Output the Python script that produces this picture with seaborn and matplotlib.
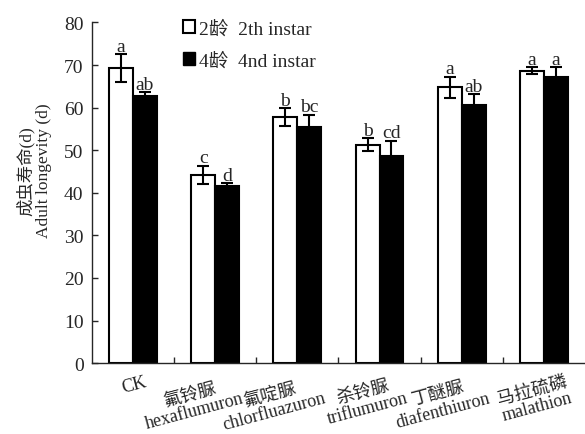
import pandas as pd
import numpy as np
import matplotlib
matplotlib.use("Agg")
import matplotlib.pyplot as plt
import matplotlib.transforms as mtransforms
from matplotlib.patches import Patch
import seaborn as sns

# data
categories = ["CK", "氟铃脲\nhexaflumuron", "氟啶脲\nchlorfluazuron",
              "杀铃脲\ntriflumuron", "丁醚脲\ndiafenthiuron", "马拉硫磷\nmalathion"]
instar2 = [69.3, 44.2, 57.8, 51.3, 64.8, 68.7]
instar2_err = [3.2, 2.2, 2.0, 1.5, 2.5, 0.8]
instar4 = [62.8, 41.5, 55.4, 48.6, 60.7, 67.3]
instar4_err = [0.8, 0.8, 2.9, 3.6, 2.5, 2.2]
letters2 = ["a", "c", "b", "b", "a", "a"]
letters4 = ["ab", "d", "bc", "cd", "ab", "a"]
series = ["2龄  2th instar", "4龄  4nd instar"]

sns.set_style("ticks")
plt.rcParams["font.family"] = ["Liberation Serif", "Noto Sans CJK SC"]

df = pd.DataFrame({
    "cat": categories * 2,
    "stage": [series[0]] * 6 + [series[1]] * 6,
    "val": instar2 + instar4,
})

fig = plt.figure(figsize=(5.85, 4.35), dpi=100)
ax = fig.add_axes([0.157, 0.163, 0.843, 0.783])

sns.barplot(data=df, x="cat", y="val", hue="stage", order=categories,
            hue_order=series, palette=["white", "black"], edgecolor="black",
            linewidth=1.5, width=0.58, gap=0, errorbar=None, legend=False, ax=ax)

# error bars and letters at the bar centres
bars = ax.patches
n = len(categories)
for k, (means, errs, lets) in enumerate([(instar2, instar2_err, letters2),
                                          (instar4, instar4_err, letters4)]):
    for i in range(n):
        p = bars[k * n + i]
        xc = p.get_x() + p.get_width() / 2
        ax.errorbar(xc, means[i], yerr=errs[i], fmt="none", ecolor="black",
                    elinewidth=1.5, capsize=4, capthick=1.5, zorder=3)
        ax.text(xc, means[i] + errs[i] + 0.8, lets[i], ha="center",
                va="baseline", fontsize=14)

ax.set_ylim(0, 80)
ax.set_xlim(-0.5, n - 0.5)
ax.set_yticks(np.arange(0, 81, 10))
ax.set_xticks(np.arange(n - 1) + 0.5, minor=True)
ax.tick_params(axis="y", direction="in", length=4, width=1, labelsize=14, pad=6)
ax.tick_params(axis="x", which="major", length=0, labelsize=13, pad=7)
ax.tick_params(axis="x", which="minor", direction="in", length=4, width=1)
ax.set_xticklabels(categories, rotation=15, ha="right", multialignment="center",
                   linespacing=1.0)
for i, lab in enumerate(ax.get_xticklabels()):
    dx = 15 if i == 0 else 30  # pixels
    lab.set_transform(lab.get_transform() +
                      mtransforms.ScaledTranslation(dx / 100, 0, fig.dpi_scale_trans))

sns.despine(ax=ax)
for s in ["left", "bottom"]:
    ax.spines[s].set_linewidth(1)

ax.set_xlabel("")
ax.set_ylabel("成虫寿命(d)\nAdult longevity (d)", fontsize=12.5, linespacing=1.15)
ax.yaxis.set_label_coords(-0.08, 0.567)

handles = [Patch(facecolor="white", edgecolor="black", linewidth=1.5),
           Patch(facecolor="black", edgecolor="black")]
ax.legend(handles, series, loc="upper left", bbox_to_anchor=(0.17, 1.03),
          frameon=False, fontsize=14, handlelength=0.6, handleheight=0.6,
          handletextpad=0.2, labelspacing=0.75, borderaxespad=0)

fig.savefig("out.png", dpi=100)
